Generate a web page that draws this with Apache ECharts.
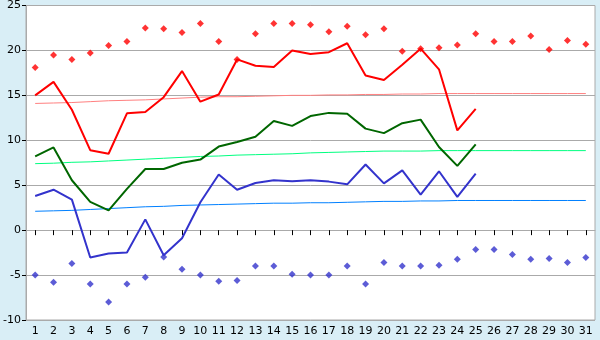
<!DOCTYPE html>
<html><head><meta charset="utf-8">
<script src="https://cdn.jsdelivr.net/npm/echarts@6/dist/echarts.min.js"></script>
<style>html,body{margin:0;padding:0;background:#d9eef6;}#c{width:600px;height:340px;}</style>
</head><body><div id="c"></div>
<script>
var days = ['1','2','3','4','5','6','7','8','9','10','11','12','13','14','15','16','17','18','19','20','21','22','23','24','25','26','27','28','29','30','31'];
var maxTemp = [15.0,16.5,13.4,8.9,8.5,13.0,13.15,14.8,17.7,14.3,15.1,19.0,18.3,18.15,20.0,19.6,19.8,20.8,17.2,16.7,18.4,20.2,17.9,11.1,13.5];
var meanTemp = [8.2,9.2,5.55,3.15,2.2,4.6,6.8,6.8,7.5,7.85,9.3,9.8,10.4,12.15,11.6,12.7,13.05,12.95,11.3,10.8,11.9,12.3,9.25,7.15,9.55];
var minTemp = [3.8,4.5,3.4,-3.05,-2.6,-2.5,1.2,-2.8,-0.9,3.1,6.2,4.5,5.25,5.55,5.45,5.55,5.4,5.1,7.3,5.2,6.65,3.95,6.55,3.7,6.3];
var recordMax = [18.1,19.5,19.0,19.7,20.55,21.0,22.5,22.4,22.0,23.0,21.0,19.0,21.85,23.0,23.0,22.85,22.07,22.7,21.75,22.4,19.9,20.2,20.3,20.6,21.85,21.0,21.0,21.6,20.1,21.1,20.7];
var recordMin = [-5.0,-5.8,-3.7,-6.0,-8.0,-6.0,-5.25,-3.0,-4.35,-5.0,-5.7,-5.6,-4.0,-4.0,-4.9,-5.0,-5.0,-4.0,-6.0,-3.6,-4.0,-4.0,-3.9,-3.25,-2.15,-2.15,-2.7,-3.25,-3.15,-3.6,-3.05];
var normalMax = [14.1,14.15,14.2,14.3,14.4,14.45,14.5,14.6,14.7,14.8,14.85,14.85,14.9,14.95,15.0,15.0,15.05,15.05,15.1,15.1,15.15,15.15,15.2,15.2,15.2,15.2,15.2,15.2,15.2,15.2,15.2];
var normalMean = [7.4,7.45,7.55,7.6,7.7,7.8,7.9,8.0,8.1,8.2,8.25,8.35,8.4,8.45,8.5,8.6,8.65,8.7,8.75,8.8,8.8,8.8,8.85,8.85,8.85,8.85,8.85,8.85,8.85,8.85,8.85];
var normalMin = [2.1,2.15,2.2,2.3,2.4,2.5,2.6,2.65,2.75,2.8,2.85,2.9,2.95,3.0,3.0,3.05,3.05,3.1,3.15,3.2,3.2,3.25,3.25,3.3,3.3,3.3,3.3,3.3,3.3,3.3,3.3];
var yTicks = {min:-10, max:25, interval:5};

var chart = echarts.init(document.getElementById('c'), null, {renderer:'canvas'});
var font = 'DejaVu Sans';
function line(data, color, w, z){
  return {type:'line', data:data, symbol:'none', lineStyle:{color:color, width:w}, z:z, animation:false, silent:true};
}
function pts(data, color){
  return {type:'scatter', data:data, symbol:'diamond', symbolSize:7, itemStyle:{color:color}, z:5, animation:false, silent:true};
}
chart.setOption({
  backgroundColor:'#d9eef6',
  animation:false,
  grid:{left:26, right:5, top:5, bottom:20, show:true, backgroundColor:'#ffffff', borderColor:'#aaaaaa', borderWidth:1},
  xAxis:{type:'category', data:days, boundaryGap:true,
    axisLine:{show:true, lineStyle:{color:'#aaaaaa'}},
    axisTick:{show:true, alignWithLabel:true, length:5, lineStyle:{color:'#000000'}},
    axisLabel:{color:'#000000', fontFamily:font, fontSize:11, margin:6, interval:0},
    splitLine:{show:false}},
  yAxis:{type:'value', min:yTicks.min, max:yTicks.max, interval:yTicks.interval,
    axisLine:{show:true, lineStyle:{color:'#aaaaaa'}},
    axisTick:{show:true, length:4, lineStyle:{color:'#000000'}},
    axisLabel:{color:'#000000', fontFamily:font, fontSize:11, margin:5},
    splitLine:{show:true, lineStyle:{color:'#aaaaaa', width:1}}},
  series:[
    line(normalMax, '#ff8080', 1, 2),
    line(normalMean, '#00ff80', 1, 2),
    line(normalMin, '#0080ff', 1, 2),
    line(maxTemp, '#ff0000', 2, 3),
    line(meanTemp, '#006600', 2, 3),
    line(minTemp, '#3333cc', 2, 3),
    pts(recordMax, '#ff0000'),
    pts(recordMin, '#3333cc')
  ]
});
</script></body></html>
